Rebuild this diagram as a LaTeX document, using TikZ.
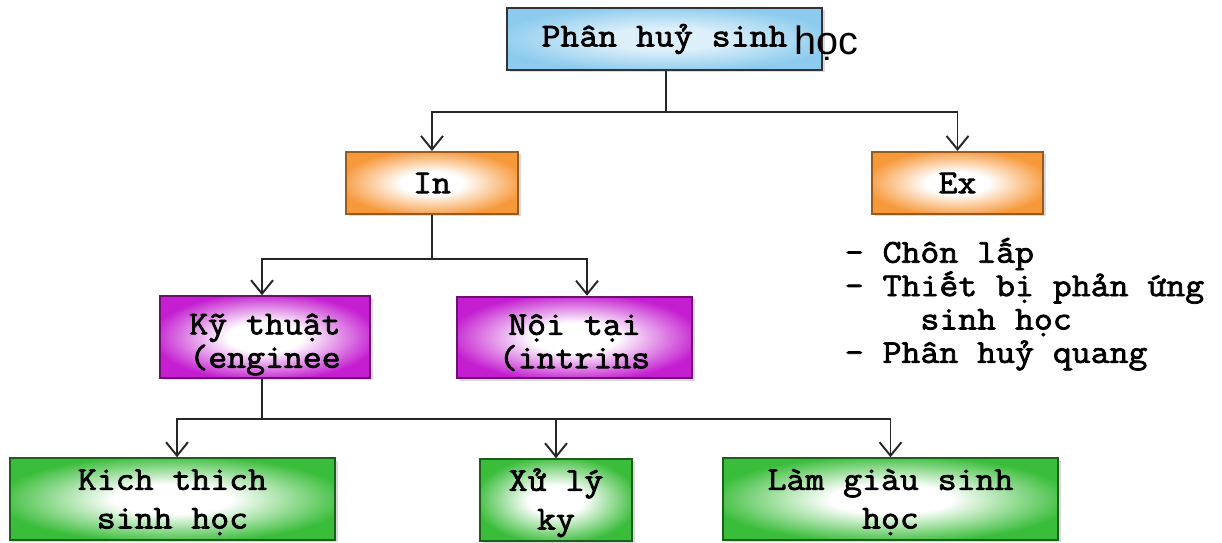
\documentclass[tikz,border=0pt]{standalone}
\usepackage{fontspec}
\usepackage{xcolor}
\setmainfont{Latin Modern Mono}[FakeStretch=1.1,AutoFakeBold=2.2]
\newfontfamily\chusans{Liberation Sans}
\usetikzlibrary{arrows.meta,shadows,calc}

\definecolor{bleu}{HTML}{8CCBEE}
\definecolor{bleuclair}{HTML}{DDF0FA}
\definecolor{cam}{HTML}{F7983A}
\definecolor{tim}{HTML}{C41ED0}
\definecolor{xanh}{HTML}{3ABD3A}
\colorlet{maugiua}{white}
\colorlet{mauvien}{cam}
% nen sang o giua, dam o mep
\pgfdeclareradialshading[maugiua,mauvien]{toa}{\pgfpoint{0bp}{0bp}}
  {color(0bp)=(maugiua); color(9bp)=(maugiua); color(27bp)=(mauvien); color(50bp)=(mauvien)}

\begin{document}
\begin{tikzpicture}[line width=1.1pt,draw=black!85,
   >={Straight Barb[length=2.7mm,width=4.4mm]},
   every node/.style={font=\fontsize{19}{19}\selectfont\bfseries},
   boite/.style={rectangle,line width=1.2pt,align=center,inner sep=0pt,shade,shading=toa,
      drop shadow={shadow xshift=0.05cm,shadow yshift=-0.05cm,opacity=0.3}},
   boite bleue/.style={boite,draw=black!80,minimum height=1.24cm,
      /utils/exec={\colorlet{maugiua}{bleuclair}\colorlet{mauvien}{bleu}}},
   boite cam/.style={boite,draw=cam!60!black,minimum height=1.24cm,
      /utils/exec={\colorlet{maugiua}{white}\colorlet{mauvien}{cam}}},
   boite tim/.style={boite,draw=tim!55!black,minimum height=1.63cm,
      text height=1.33cm,text depth=0.1cm,
      /utils/exec={\colorlet{maugiua}{white}\colorlet{mauvien}{tim}}},
   boite xanh/.style={boite,draw=xanh!50!black,minimum height=1.63cm,
      text height=1.28cm,text depth=0.1cm,
      font=\fontsize{19}{22}\selectfont\bfseries,
      /utils/exec={\colorlet{maugiua}{white}\colorlet{mauvien}{xanh}}}]

  \useasboundingbox (0,0) rectangle (24.44,-10.86);

  % cap 1
  \node[boite bleue,minimum width=6.3cm] (goc) at (13.29,-0.78) {Phân huỷ sinh};
  \node[font=\chusans\fontsize{22.5}{23}\selectfont] (hoc) at (16.52,-0.86) {học};

  % cap 2
  \node[boite cam,minimum width=3.44cm] (in) at (8.64,-3.66) {In};
  \node[boite cam,minimum width=3.42cm] (ex) at (19.15,-3.66) {Ex};
  \node[anchor=north west,align=left] (dsex) at (16.76,-4.62)
     {- Chôn lấp\\- Thiết bị phản ứng\\\phantom{xxxx}sinh học\\- Phân huỷ quang};

  % cap 3
  \node[boite tim,minimum width=4.2cm] (kt) at (5.30,-6.74) {Kỹ thuật\\(enginee};
  \node[boite tim,minimum width=4.7cm] (nt) at (11.49,-6.75) {Nội tại\\(intrins};

  % cap 4
  \node[boite xanh,minimum width=6.5cm] (kich) at (3.45,-9.98) {Kich thich\\sinh học};
  \node[boite xanh,minimum width=3.04cm] (xuly) at (11.12,-10.0) {Xử lý\\ky};
  \node[boite xanh,minimum width=6.7cm] (lam) at (17.81,-9.98) {Làm giàu sinh\\học};

  % cac nhanh
  \coordinate (r1) at ($(goc.south)+(0.03,-0.82)$);
  \draw ($(goc.south)+(0.03,0)$) -- (r1);
  \foreach \to in {in,ex} \draw[->] (r1) -| (\to.north);

  \coordinate (r2) at ($(in.south)+(0,-0.88)$);
  \draw (in.south) -- (r2);
  \draw[->] (r2) -| ([xshift=-0.06cm]kt.north);
  \draw[->] (r2) -| ([xshift=0.25cm]nt.north);

  \coordinate (r3) at ($(kt.south)+(-0.06,-0.8)$);
  \draw ($(kt.south)+(-0.06,0)$) -- (r3);
  \draw[->] (r3) -| ([xshift=0.09cm]kich.north);
  \foreach \to in {xuly,lam} \draw[->] (r3) -| (\to.north);
\end{tikzpicture}
\end{document}
